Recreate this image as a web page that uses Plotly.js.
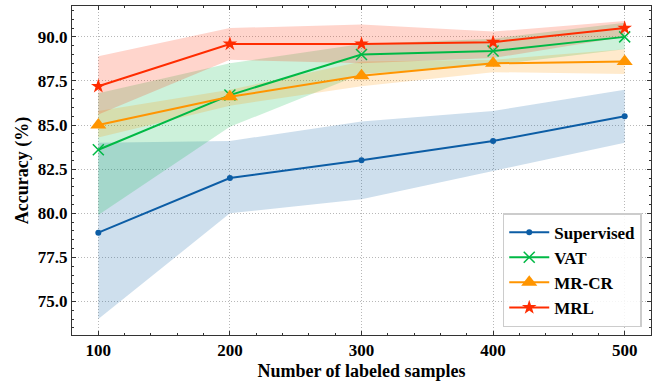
<!DOCTYPE html>
<html>
<head>
<meta charset="utf-8">
<script src="https://cdn.plot.ly/plotly-3.0.1.min.js"></script>
<style>html,body{margin:0;padding:0;background:#fff;}#chart{width:657px;height:381px;}</style>
</head>
<body>
<div id="chart"></div>
<script>
const samples = [100, 200, 300, 400, 500];

const supervised = [78.9, 82.0, 83.0, 84.1, 85.5];
const supervisedLow = [74.0, 80.0, 80.8, 82.4, 84.0];
const supervisedHigh = [84.0, 84.1, 85.2, 85.8, 87.0];

const vat = [83.6, 86.7, 89.0, 89.2, 90.0];
const vatLow = [79.9, 84.9, 87.9, 88.4, 89.3];
const vatHigh = [86.8, 88.5, 89.6, 89.9, 90.8];

const mrcr = [85.0, 86.6, 87.8, 88.5, 88.6];
const mrcrLow = [84.3, 86.1, 87.2, 88.0, 87.9];
const mrcrHigh = [85.8, 87.0, 88.6, 88.7, 89.3];

const mrl = [87.2, 89.6, 89.6, 89.7, 90.5];
const mrlLow = [85.6, 88.7, 88.5, 88.8, 90.0];
const mrlHigh = [88.9, 90.5, 90.7, 90.3, 90.9];

const names = ["Supervised", "VAT", "MR-CR", "MRL"];
const colors = ["#0C5DA5", "#00B945", "#FF9500", "#FF2C00"];
const fills = ["rgba(12,93,165,0.2)", "rgba(0,185,69,0.2)", "rgba(255,149,0,0.2)", "rgba(255,44,0,0.2)"];
const symbols = ["circle", "x-thin-open", "triangle-up", "star"];
const sizes = [6, 11, 14, 11];
const means = [supervised, vat, mrcr, mrl];
const lows = [supervisedLow, vatLow, mrcrLow, mrlLow];
const highs = [supervisedHigh, vatHigh, mrcrHigh, mrlHigh];

const traces = [];
for (let i = 0; i < 4; i++) {
  traces.push({
    x: samples.concat(samples.slice().reverse()),
    y: highs[i].concat(lows[i].slice().reverse()),
    type: "scatter", mode: "lines", fill: "toself",
    fillcolor: fills[i], line: {width: 0, color: "rgba(0,0,0,0)"},
    showlegend: false, hoverinfo: "skip"
  });
}
for (let i = 0; i < 4; i++) {
  traces.push({
    x: samples, y: means[i], name: "<b>" + names[i] + "</b>",
    type: "scatter", mode: "lines+markers",
    line: {color: colors[i], width: 2},
    marker: {symbol: symbols[i], size: sizes[i], color: colors[i],
             line: {color: colors[i], width: i === 1 ? 1.5 : 0}}
  });
}

const fam = "Liberation Serif";

const axisCommon = {
  showline: true, linecolor: "#333", linewidth: 1, mirror: "allticks",
  ticks: "inside", ticklen: 4, tickwidth: 1, tickcolor: "#333",
  showgrid: true, gridcolor: "#b0b0b0", griddash: "1px,2px", gridwidth: 0.9,
  zeroline: false,
  tickfont: {family: fam, size: 17, color: "#000", weight: "bold"}
};

const layout = {
  width: 657, height: 381,
  margin: {l: 72, r: 6, t: 6, b: 46},
  paper_bgcolor: "#fff", plot_bgcolor: "#fff",
  font: {family: fam, size: 17, color: "#000"},
  showlegend: true,
  xaxis: Object.assign({}, axisCommon, {
    range: [80, 520], tickvals: samples, ticktext: samples.map(function (v) { return "<b>" + v + "</b>"; }),
    minor: {dtick: 20, tick0: 0, ticks: "inside", ticklen: 2, tickcolor: "#333", showgrid: false},
    title: {text: "<b>Number of labeled samples</b>", font: {family: fam, size: 18, color: "#000"}, standoff: 4}
  }),
  yaxis: Object.assign({}, axisCommon, {
    range: [73.1, 91.75], tick0: 75, dtick: 2.5, tickformat: ".1f",
    minor: {dtick: 0.5, tick0: 0, ticks: "inside", ticklen: 2, tickcolor: "#333", showgrid: false},
    title: {text: "<b>Accuracy (%)</b>", font: {family: fam, size: 18, color: "#000"}, standoff: 4}
  }),
  legend: {
    x: 0.984, y: 0.024, xanchor: "right", yanchor: "bottom",
    bgcolor: "rgba(255,255,255,0.85)", bordercolor: "#ccc", borderwidth: 1.5,
    font: {family: fam, size: 17, color: "#000"},
    itemwidth: 40, tracegroupgap: 0
  }
};

Plotly.newPlot("chart", traces, layout, {displayModeBar: false, staticPlot: true});
</script>
</body>
</html>
